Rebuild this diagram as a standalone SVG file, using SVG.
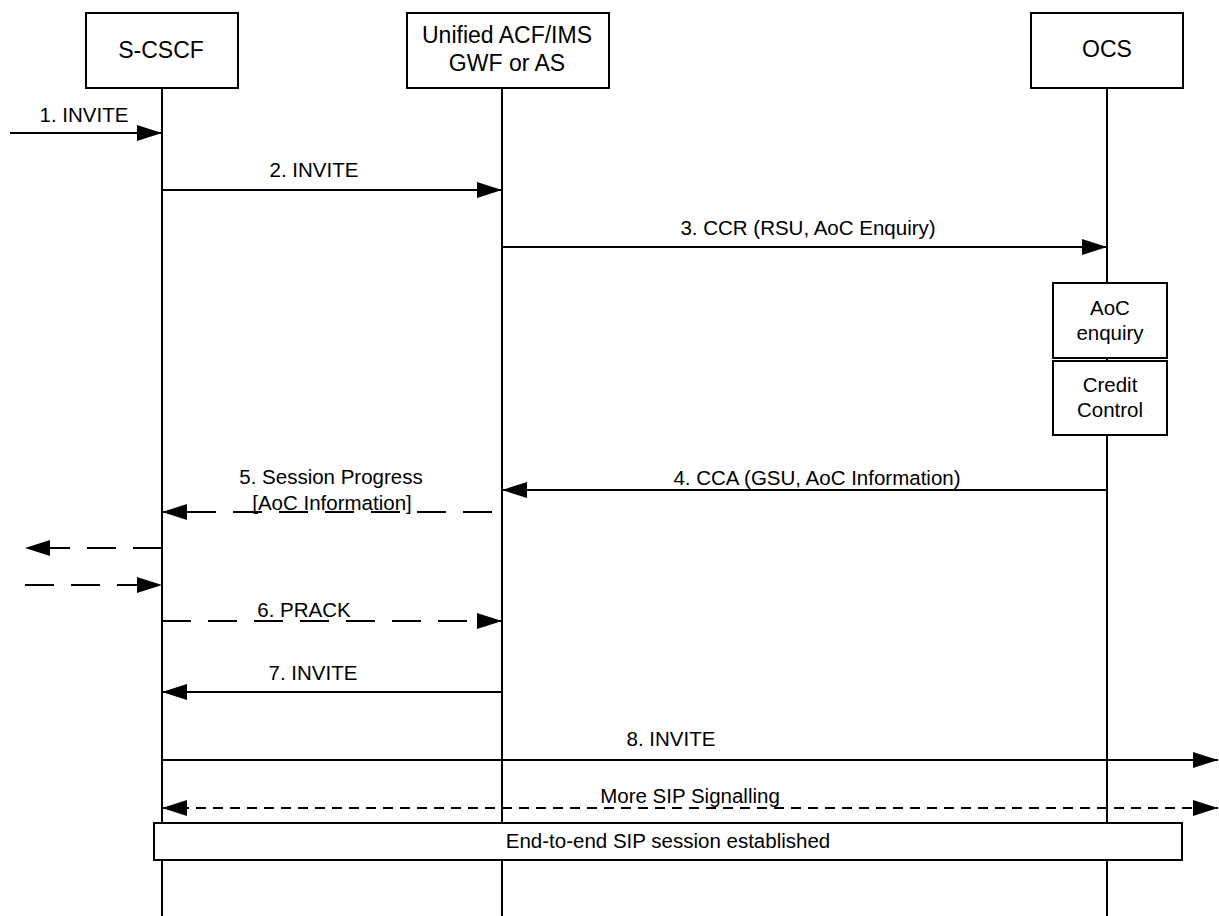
<svg xmlns="http://www.w3.org/2000/svg" width="1219" height="916" viewBox="0 0 1219 916">
<style>
  .box { fill: #fff; stroke: #000; stroke-width: 2; }
  .life { stroke: #000; stroke-width: 2; fill: none; }
  .msg { stroke: #000; stroke-width: 2; fill: none; }
  .dash { stroke-dasharray: 29 17; }
  .fine { stroke-dasharray: 10 7; }
  .hd { font-family: "Liberation Sans", Arial, sans-serif; font-size: 23px; fill: #000; text-anchor: middle; }
  .lb { font-family: "Liberation Sans", Arial, sans-serif; font-size: 20.5px; fill: #000; text-anchor: middle; }
</style>
<defs>
  <marker id="ah" markerUnits="userSpaceOnUse" markerWidth="25" markerHeight="16" refX="25" refY="8" orient="auto" viewBox="0 0 25 16">
    <path d="M0,0 L25,8 L0,16 z" fill="#000" stroke="none"/>
  </marker>
  <marker id="as" markerUnits="userSpaceOnUse" markerWidth="25" markerHeight="16" refX="0" refY="8" orient="auto" viewBox="0 0 25 16">
    <path d="M25,0 L0,8 L25,16 z" fill="#000" stroke="none"/>
  </marker>
</defs>
<rect width="1219" height="916" fill="#fff"/>

<g id="lifelines">
  <line class="life" x1="162" y1="88" x2="162" y2="916"/>
  <line class="life" x1="502" y1="88" x2="502" y2="916"/>
  <line class="life" x1="1107" y1="88" x2="1107" y2="916"/>
</g>

<g id="node-scscf">
  <rect class="box" x="86" y="13" width="152" height="75"/>
  <text class="hd" x="161" y="58">S-CSCF</text>
</g>
<g id="node-acf">
  <rect class="box" x="407" y="13" width="202" height="75"/>
  <text class="hd" x="507" y="43">Unified ACF/IMS</text>
  <text class="hd" x="507" y="71">GWF or AS</text>
</g>
<g id="node-ocs">
  <rect class="box" x="1031" y="13" width="152" height="75"/>
  <text class="hd" x="1107" y="57">OCS</text>
</g>

<g id="connectors">
  <line class="msg" x1="10" y1="133" x2="162" y2="133" marker-end="url(#ah)"/>
  <line class="msg" x1="162" y1="190" x2="502" y2="190" marker-end="url(#ah)"/>
  <line class="msg" x1="502" y1="247" x2="1107" y2="247" marker-end="url(#ah)"/>
  <line class="msg" x1="1107" y1="490" x2="502" y2="490" marker-end="url(#ah)"/>
  <line class="msg dash" x1="492" y1="512" x2="162" y2="512" marker-end="url(#ah)"/>
  <line class="msg dash" x1="162" y1="548" x2="25" y2="548" marker-end="url(#ah)"/>
  <line class="msg dash" x1="25" y1="585" x2="162" y2="585" marker-end="url(#ah)"/>
  <line class="msg dash" x1="162" y1="621" x2="502" y2="621" marker-end="url(#ah)"/>
  <line class="msg" x1="502" y1="692" x2="162" y2="692" marker-end="url(#ah)"/>
  <line class="msg" x1="162" y1="760" x2="1218" y2="760" marker-end="url(#ah)"/>
  <line class="msg fine" x1="162" y1="808" x2="1218" y2="808" marker-start="url(#as)" marker-end="url(#ah)"/>
</g>

<g id="labels">
  <text class="lb" x="84" y="122">1. INVITE</text>
  <text class="lb" x="314" y="177">2. INVITE</text>
  <text class="lb" x="808" y="235">3. CCR (RSU, AoC Enquiry)</text>
  <text class="lb" x="817" y="485">4. CCA (GSU, AoC Information)</text>
  <text class="lb" x="331" y="484">5. Session Progress</text>
  <text class="lb" x="332" y="510">[AoC Information]</text>
  <text class="lb" x="304" y="617">6. PRACK</text>
  <text class="lb" x="313" y="680">7. INVITE</text>
  <text class="lb" x="671" y="746">8. INVITE</text>
  <text class="lb" x="690" y="803">More SIP Signalling</text>
</g>

<g id="node-aoc-enquiry">
  <rect class="box" x="1053" y="283" width="114" height="75"/>
  <text class="lb" x="1110" y="315">AoC</text>
  <text class="lb" x="1110" y="340">enquiry</text>
</g>
<g id="node-credit-control">
  <rect class="box" x="1053" y="361" width="114" height="74"/>
  <text class="lb" x="1110" y="392">Credit</text>
  <text class="lb" x="1110" y="417">Control</text>
</g>
<g id="node-session">
  <rect class="box" x="154" y="823" width="1028" height="37"/>
  <text class="lb" x="668" y="848">End-to-end SIP session established</text>
</g>
</svg>
